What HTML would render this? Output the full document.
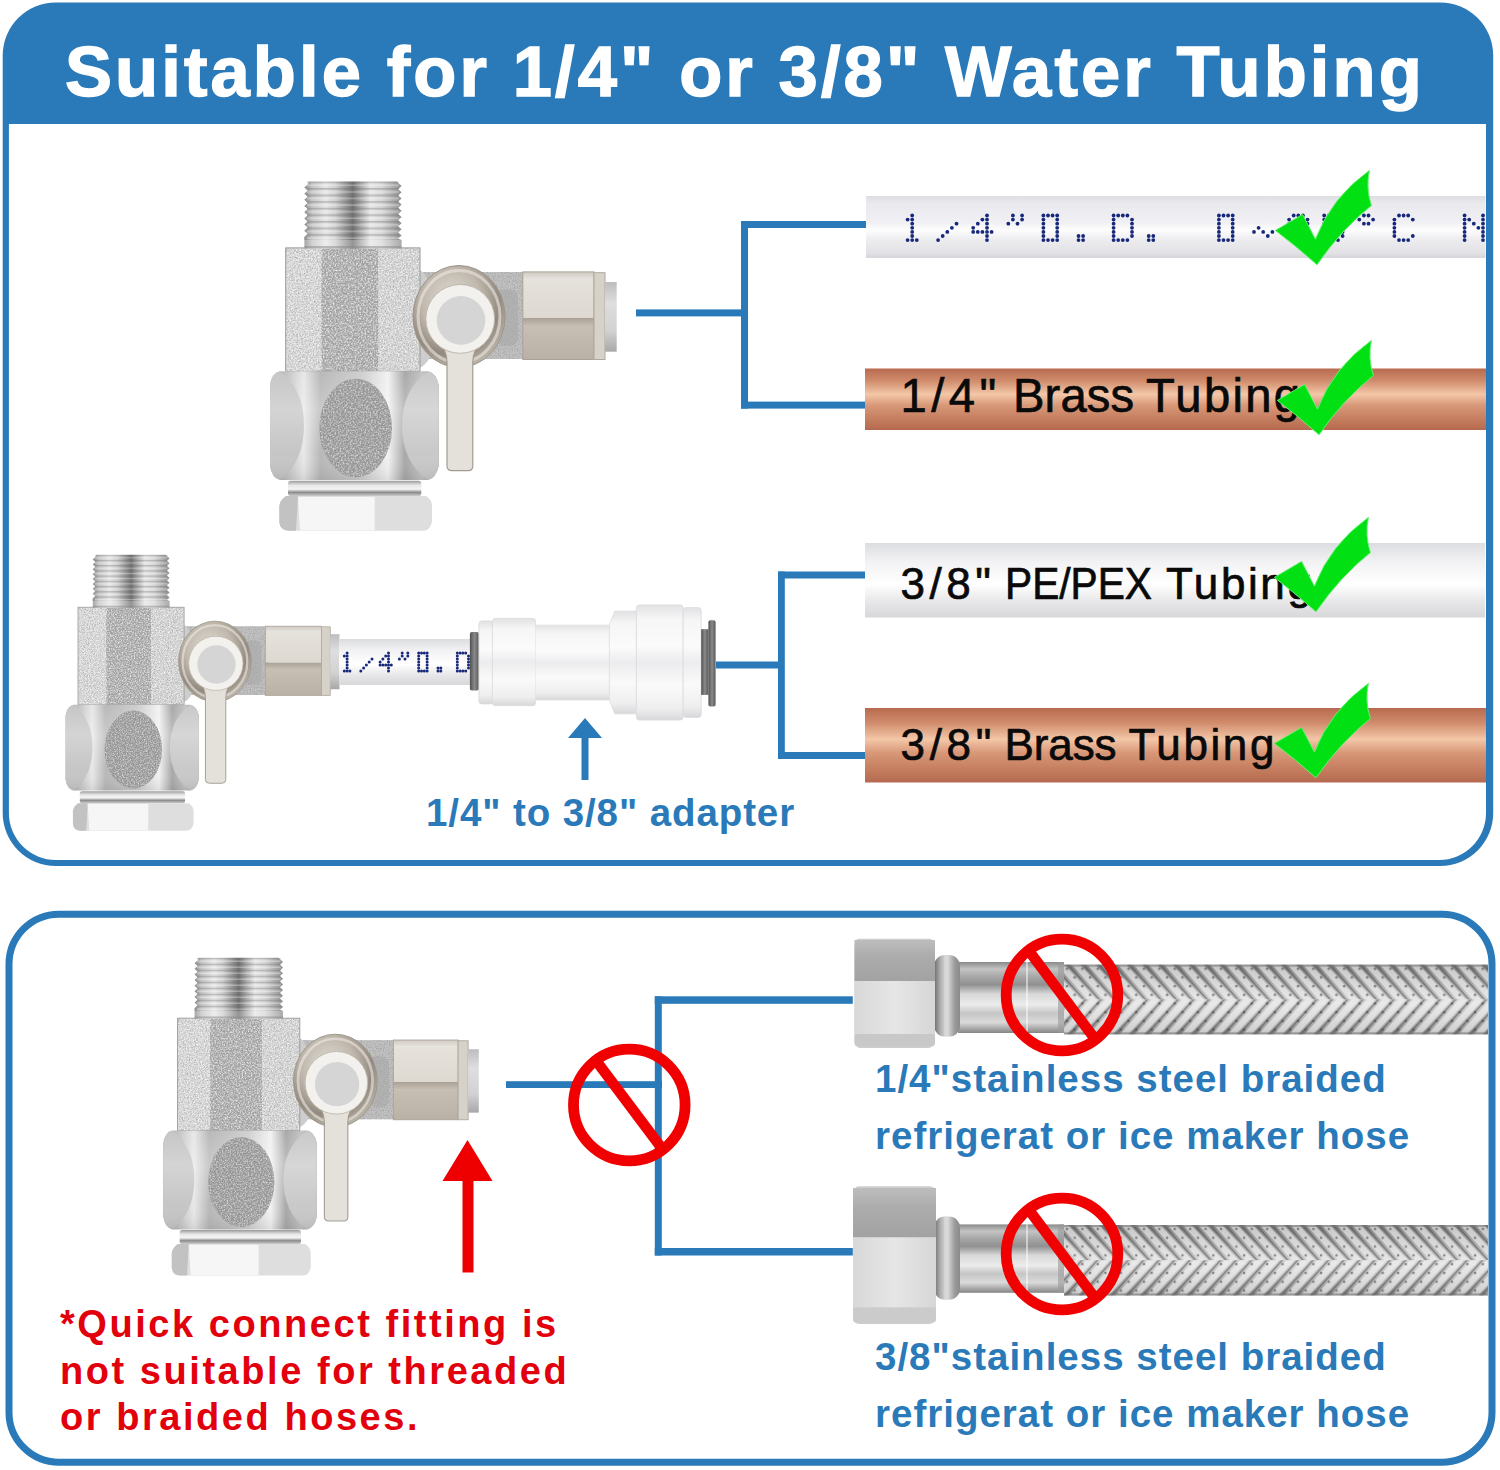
<!DOCTYPE html>
<html><head><meta charset="utf-8">
<style>
html,body{margin:0;padding:0;background:#fff;width:1500px;height:1470px;overflow:hidden}
svg{position:absolute;left:0;top:0}
text{font-family:"Liberation Sans",sans-serif}
</style></head><body>
<svg width="1500" height="1470" viewBox="0 0 1500 1470">
<defs>
<linearGradient id="gWhiteTube" x1="0" y1="0" x2="0" y2="1">
 <stop offset="0" stop-color="#dcdde0"/><stop offset="0.25" stop-color="#f2f2f4"/><stop offset="0.55" stop-color="#ffffff"/><stop offset="0.8" stop-color="#e6e6e8"/><stop offset="1" stop-color="#d8d8da"/>
</linearGradient>
<linearGradient id="gWhiteTube1" x1="0" y1="0" x2="0" y2="1">
 <stop offset="0" stop-color="#dedee2"/><stop offset="0.12" stop-color="#eaeaee"/><stop offset="0.42" stop-color="#f0f0f4"/><stop offset="0.55" stop-color="#fdfdfd"/><stop offset="0.7" stop-color="#ededf0"/><stop offset="0.92" stop-color="#e2e2e6"/><stop offset="1" stop-color="#d6d6da"/>
</linearGradient>
<linearGradient id="gCopper" x1="0" y1="0" x2="0" y2="1">
 <stop offset="0" stop-color="#b86a4e"/><stop offset="0.2" stop-color="#d08c6c"/><stop offset="0.42" stop-color="#f3c7a8"/><stop offset="0.6" stop-color="#d89878"/><stop offset="0.85" stop-color="#c27a5c"/><stop offset="1" stop-color="#b56a4f"/>
</linearGradient>
<path id="check" d="M0.4 60.4 L27.6 44.4 L40.4 69.2 Q56.6 27.2 94.4 0.4 Q90.6 18 96.4 35.6 Q66.8 58.8 42 94.8 Q21 76 0.4 60.4 Z"/>
<g id="nosign">
 <circle cx="0" cy="0" r="55.8" fill="none" stroke="#f00000" stroke-width="10.8"/>
 <line x1="-33" y1="-44" x2="33" y2="44" stroke="#f00000" stroke-width="10.5"/>
</g>

<filter id="noise" x="0" y="0" width="1" height="1" filterUnits="objectBoundingBox">
 <feTurbulence type="fractalNoise" baseFrequency="0.75" numOctaves="2" seed="4"/>
 <feColorMatrix type="matrix" values="0 0 0 0 0.3  0 0 0 0 0.3  0 0 0 0 0.3  1.5 0 0 0 -0.55"/>
 <feComposite in2="SourceAlpha" operator="in"/>
</filter>
<filter id="noiseW" x="0" y="0" width="1" height="1" filterUnits="objectBoundingBox">
 <feTurbulence type="fractalNoise" baseFrequency="0.6" numOctaves="2" seed="9"/>
 <feColorMatrix type="matrix" values="0 0 0 0 1  0 0 0 0 1  0 0 0 0 1  1.8 0 0 0 -0.7"/>
 <feComposite in2="SourceAlpha" operator="in"/>
</filter>
<linearGradient id="gThread" x1="0" y1="0" x2="1" y2="0">
 <stop offset="0" stop-color="#8a8a8a"/><stop offset="0.08" stop-color="#c4c4c4"/><stop offset="0.22" stop-color="#e6e6e6"/><stop offset="0.32" stop-color="#cfcfcf"/><stop offset="0.42" stop-color="#9a9a9a"/><stop offset="0.5" stop-color="#707070"/><stop offset="0.58" stop-color="#a8a8a8"/><stop offset="0.68" stop-color="#e6e6e6"/><stop offset="0.8" stop-color="#d6d6d6"/><stop offset="0.92" stop-color="#ababab"/><stop offset="1" stop-color="#8c8c8c"/>
</linearGradient>
<pattern id="pThread" x="0" y="181.4" width="10" height="6.6" patternUnits="userSpaceOnUse">
 <rect x="0" y="0" width="10" height="1.6" fill="#6a6a6a" opacity="0.35"/>
 <rect x="0" y="3.2" width="10" height="1.4" fill="#ffffff" opacity="0.35"/>
</pattern>
<linearGradient id="gNutBig" x1="0" y1="0" x2="1" y2="0">
 <stop offset="0" stop-color="#a6a6a6"/><stop offset="0.1" stop-color="#c4c4c4"/><stop offset="0.2" stop-color="#e8e8e8"/><stop offset="0.3" stop-color="#b8b8b8"/><stop offset="0.55" stop-color="#d0d0d0"/><stop offset="0.7" stop-color="#f2f2f2"/><stop offset="0.8" stop-color="#a8a8a8"/><stop offset="0.9" stop-color="#c4c4c4"/><stop offset="1" stop-color="#9c9c9c"/>
</linearGradient>
<linearGradient id="gNutV" x1="0" y1="0" x2="0" y2="1">
 <stop offset="0" stop-color="#ffffff" stop-opacity="0.0"/><stop offset="0.35" stop-color="#ffffff" stop-opacity="0.25"/><stop offset="0.75" stop-color="#ffffff" stop-opacity="0.0"/><stop offset="1" stop-color="#000" stop-opacity="0.08"/>
</linearGradient>
<linearGradient id="gCollar" x1="0" y1="0" x2="0" y2="1">
 <stop offset="0" stop-color="#9a9a9a"/><stop offset="0.3" stop-color="#e8e8e8"/><stop offset="0.55" stop-color="#f4f4f4"/><stop offset="0.75" stop-color="#8c8c8c"/><stop offset="1" stop-color="#d0d0d0"/>
</linearGradient>
<linearGradient id="gFitUp" x1="0" y1="0" x2="0" y2="1">
 <stop offset="0" stop-color="#cfcac2"/><stop offset="0.15" stop-color="#e6e2dc"/><stop offset="1" stop-color="#ddd8d0"/>
</linearGradient>
<linearGradient id="gFitLo" x1="0" y1="0" x2="0" y2="1">
 <stop offset="0" stop-color="#a9a196"/><stop offset="0.2" stop-color="#c7bfb3"/><stop offset="1" stop-color="#b9b1a5"/>
</linearGradient>
<radialGradient id="gBall" cx="0.42" cy="0.35" r="0.65">
 <stop offset="0" stop-color="#e2ded8"/><stop offset="0.5" stop-color="#c0b8ac"/><stop offset="0.8" stop-color="#928a7e"/><stop offset="1" stop-color="#b8b1a6"/>
</radialGradient>
<linearGradient id="gCap" x1="0" y1="0" x2="0" y2="1">
 <stop offset="0" stop-color="#bdbdbd"/><stop offset="0.3" stop-color="#dedede"/><stop offset="0.7" stop-color="#d2d2d2"/><stop offset="1" stop-color="#a8a8a8"/>
</linearGradient>


<linearGradient id="gBraid" x1="0" y1="0" x2="0" y2="1">
 <stop offset="0" stop-color="#8e8e8e"/><stop offset="0.12" stop-color="#a8a8a8"/><stop offset="0.35" stop-color="#cfcfcf"/><stop offset="0.55" stop-color="#ececec"/><stop offset="0.75" stop-color="#d2d2d2"/><stop offset="0.92" stop-color="#b4b4b4"/><stop offset="1" stop-color="#8c8c8c"/>
</linearGradient>
<pattern id="pBraidUp" x="1064" y="0" width="15.4" height="100" patternUnits="userSpaceOnUse" patternTransform="skewX(42)">
 <rect x="0" y="0" width="15.4" height="100" fill="#000" opacity="0.12"/>
 <rect x="1.5" y="0" width="8.5" height="100" fill="#fff" opacity="0.55"/>
 <rect x="12" y="0" width="2.2" height="100" fill="#3a3a3a" opacity="0.45"/>
</pattern>
<pattern id="pBraidDn" x="1064" y="0" width="15.4" height="100" patternUnits="userSpaceOnUse" patternTransform="skewX(-42)">
 <rect x="0" y="0" width="15.4" height="100" fill="#000" opacity="0.12"/>
 <rect x="1.5" y="0" width="8.5" height="100" fill="#fff" opacity="0.55"/>
 <rect x="12" y="0" width="2.2" height="100" fill="#3a3a3a" opacity="0.45"/>
</pattern>
<linearGradient id="gSleeve" x1="0" y1="0" x2="0" y2="1">
 <stop offset="0" stop-color="#8a8a8a"/><stop offset="0.1" stop-color="#c4c4c4"/><stop offset="0.22" stop-color="#a4a4a4"/><stop offset="0.32" stop-color="#909090"/><stop offset="0.45" stop-color="#d8d8d8"/><stop offset="0.6" stop-color="#ececec"/><stop offset="0.72" stop-color="#c6c6c6"/><stop offset="0.85" stop-color="#dadada"/><stop offset="1" stop-color="#858585"/>
</linearGradient>
<pattern id="pBraidDots" x="1064" y="964.7" width="15.4" height="17.4" patternUnits="userSpaceOnUse">
 <circle cx="3" cy="4" r="1.3" fill="#3c3c3c" opacity="0.55"/>
 <circle cx="10.7" cy="12.7" r="1.3" fill="#3c3c3c" opacity="0.55"/>
</pattern>
<pattern id="pBraidDots2" x="1064" y="1225" width="15.4" height="17.6" patternUnits="userSpaceOnUse">
 <circle cx="3" cy="4" r="1.3" fill="#3c3c3c" opacity="0.55"/>
 <circle cx="10.7" cy="12.8" r="1.3" fill="#3c3c3c" opacity="0.55"/>
</pattern>
<linearGradient id="gFerrule" x1="0" y1="0" x2="1" y2="0">
 <stop offset="0" stop-color="#6a6a6a"/><stop offset="0.25" stop-color="#b0b0b0"/><stop offset="0.5" stop-color="#e0e0e0"/><stop offset="0.8" stop-color="#9a9a9a"/><stop offset="1" stop-color="#8a8a8a"/>
</linearGradient>
<linearGradient id="gNutTop" x1="0" y1="0" x2="0" y2="1">
 <stop offset="0" stop-color="#bdbdbd"/><stop offset="0.4" stop-color="#acacac"/><stop offset="1" stop-color="#a2a2a2"/>
</linearGradient>
<linearGradient id="gNutMid" x1="0" y1="0" x2="1" y2="0">
 <stop offset="0" stop-color="#d8d8d8"/><stop offset="0.5" stop-color="#e6e6e6"/><stop offset="1" stop-color="#d6d6d6"/>
</linearGradient>
<linearGradient id="gQC" x1="0" y1="0" x2="0" y2="1">
 <stop offset="0" stop-color="#e2e2e4"/><stop offset="0.12" stop-color="#f6f6f7"/><stop offset="0.35" stop-color="#fbfbfc"/><stop offset="0.5" stop-color="#ececee"/><stop offset="0.7" stop-color="#fafafa"/><stop offset="0.9" stop-color="#eeeeef"/><stop offset="1" stop-color="#d8d8da"/>
</linearGradient>
<linearGradient id="gRing" x1="0" y1="0" x2="1" y2="0">
 <stop offset="0" stop-color="#505050"/><stop offset="0.5" stop-color="#8a8a8a"/><stop offset="1" stop-color="#5a5a5a"/>
</linearGradient>
<g id="valve">
 <!-- connector arm behind -->
 <rect x="405" y="272" width="122" height="87" fill="#c4c4c4"/>
 <rect x="405" y="272" width="122" height="87" fill="#000" filter="url(#noise)"/>
 <rect x="496" y="290" width="22" height="56" rx="8" fill="#a9a9a9" opacity="0.6"/>
 <!-- boss joining body -->
 <path d="M400 262 Q432 266 432 300 L432 345 Q432 372 400 372 Z" fill="#cdcdcd"/>
 <!-- body hex column -->
 <rect x="285.7" y="247.9" width="35.7" height="123.5" fill="#dadada"/>
 <rect x="321.4" y="247.9" width="57.2" height="123.5" fill="#a6a6a6"/>
 <rect x="378.6" y="247.9" width="41.4" height="123.5" fill="#d6d6d6"/>
 <rect x="285.7" y="247.9" width="134.3" height="123.5" fill="#000" filter="url(#noise)"/>
 <rect x="285.7" y="247.9" width="134.3" height="123.5" fill="#fff" filter="url(#noiseW)"/>
 <rect x="285.7" y="247.9" width="134.3" height="123.5" fill="none" stroke="#9a9a9a" stroke-width="1"/>
 <!-- thread -->
 <path d="M309 181.4 L396.5 181.4 L401.6 186.1 L398.2 189.2 L401.6 192.3 L398.2 195.4 L401.6 198.4 L398.2 201.5 L401.6 204.6 L398.2 207.7 L401.6 210.8 L398.2 213.9 L401.6 217.0 L398.2 220.1 L401.6 223.2 L398.2 226.2 L401.6 229.3 L398.2 232.4 L401.6 235.5 L398.2 238.6 L401.4 240 L304.3 240 L304.3 236.9 L307.6 233.8 L304.3 230.7 L307.6 227.6 L304.3 224.6 L307.6 221.5 L304.3 218.4 L307.6 215.3 L304.3 212.2 L307.6 209.1 L304.3 206.0 L307.6 202.9 L304.3 199.8 L307.6 196.8 L304.3 193.7 L307.6 190.6 L304.3 187.5 L307.6 184.4 Z" fill="url(#gThread)"/>
 <rect x="307" y="181.4" width="92" height="58.6" fill="url(#pThread)"/>
 <rect x="304.5" y="240" width="97" height="8.5" fill="url(#gThread)"/><rect x="304.5" y="240" width="97" height="8.5" fill="#fff" opacity="0.25"/><rect x="304.5" y="246" width="97" height="2" fill="#888" opacity="0.5"/>
 <!-- big lower nut -->
 <path d="M280 371.3 L428 371.3 Q436 373 438.7 385 L438.7 466 Q436 478 428 480 L280 480 Q272 478 270 466 L270 385 Q272 373 280 371.3 Z" fill="url(#gNutBig)"/>
 <path d="M280 371.3 Q304 390 304 425 Q304 462 280 480 Q272 478 270 466 L270 385 Q272 373 280 371.3 Z" fill="#c6c6c6"/>
 <path d="M428 371.3 Q402 390 402 425 Q402 462 428 480 Q436 478 438.7 466 L438.7 385 Q436 373 428 371.3 Z" fill="#c9c9c9"/>
 <path d="M280 371.3 L428 371.3 Q436 373 438.7 385 L438.7 466 Q436 478 428 480 L280 480 Q272 478 270 466 L270 385 Q272 373 280 371.3 Z" fill="url(#gNutV)"/>
 <ellipse cx="355.7" cy="428" rx="36.3" ry="49.3" fill="#969696"/>
 <ellipse cx="355.7" cy="428" rx="36.3" ry="49.3" fill="#000" filter="url(#noise)"/>
 <ellipse cx="355.7" cy="428" rx="36.3" ry="49.3" fill="#fff" filter="url(#noiseW)" opacity="0.8"/>
 <!-- collar ring -->
 <rect x="288" y="480.7" width="133.3" height="15.5" rx="3" fill="url(#gCollar)"/>
 <!-- bottom hex nut -->
 <path d="M286 496 L426 496 Q432 500 432 506 L432 522 Q430 530 424 530.7 L288 530.7 Q280 530 279.3 522 L279.3 506 Q280 500 286 496 Z" fill="#dedede"/>
 <path d="M286 496 L298 496 L296 530.7 L288 530.7 Q280 530 279.3 522 L279.3 506 Q280 500 286 496 Z" fill="#c2c2c2"/>
 <path d="M298 497 L374.7 497 L374.7 530.5 L300 530.5 Z" fill="#f6f6f6"/>
 
 <!-- ball valve -->
 <ellipse cx="459" cy="316.5" rx="46" ry="51" fill="url(#gBall)" stroke="#9c9488" stroke-width="1"/>
 <ellipse cx="459" cy="316.5" rx="41" ry="46" fill="none" stroke="#ece8e2" stroke-width="3" opacity="0.6"/>
 <!-- handle -->
 <path d="M436 335 Q447 350 447 362 L447 466 Q447 470.7 452 470.7 L468 470.7 Q472.8 470.7 472.8 466 L472.8 362 Q472.8 350 484 335 Z" fill="#e4e0da" stroke="#a49c92" stroke-width="1.2"/>
 <circle cx="460.2" cy="318.9" r="34.4" fill="#f3f1ed" stroke="#bfb7ab" stroke-width="1"/>
 <circle cx="461" cy="320.4" r="24.3" fill="#d5d5d5"/>
 <!-- hex fitting -->
 <rect x="522.8" y="271.9" width="71.2" height="46.1" fill="url(#gFitUp)"/>
 <rect x="522.8" y="318" width="71.2" height="41.5" fill="url(#gFitLo)"/>
 <rect x="522.8" y="271.9" width="71.2" height="87.6" fill="none" stroke="#aaa298" stroke-width="1"/>
 <rect x="594" y="272.7" width="11" height="86.8" fill="#d6d2ca" stroke="#b0a89c" stroke-width="1"/>
 <rect x="605" y="282" width="11.7" height="69.7" fill="url(#gCap)"/>
</g>
</defs>
<!-- Panel 1 -->
<rect x="2.7" y="2.5" width="1490.5" height="863.5" rx="53" fill="#2a7ab9"/>
<path d="M8.9 124 H1486 V813 A47 47 0 0 1 1439 860 H56 A47 47 0 0 1 8.9 813 Z" fill="#fff"/>
<text x="65" y="95.6" font-size="70.5" font-weight="bold" fill="#fff" stroke="#fff" stroke-width="1.4" letter-spacing="3.1">Suitable for 1/4" or 3/8" Water Tubing</text>
<!-- Panel 2 -->
<rect x="9" y="914.2" width="1483" height="548" rx="50" fill="none" stroke="#2a7ab9" stroke-width="7"/>


<use href="#valve"/>
<use href="#valve" transform="translate(-147.7,411.4) scale(0.79)"/>
<use href="#valve" transform="translate(-82.4,792.6) scale(0.91)"/>

<!-- hose 1 -->
<rect x="1064" y="964.7" width="424" height="69.6" fill="url(#gBraid)"/>
<rect x="1064" y="964.7" width="424" height="34.8" fill="url(#pBraidUp)"/>
<rect x="1064" y="999.5" width="424" height="34.8" fill="url(#pBraidDn)"/>
<rect x="1064" y="964.7" width="424" height="69.6" fill="url(#pBraidDots)"/>
<rect x="1064" y="964.7" width="424" height="2" fill="#7a7a7a" opacity="0.6"/>
<rect x="1064" y="1032.3" width="424" height="2" fill="#7a7a7a" opacity="0.6"/>
<rect x="958" y="962" width="106" height="71" fill="url(#gSleeve)"/>
<rect x="1026" y="962" width="2" height="71" fill="#fff" opacity="0.5"/>
<rect x="1058" y="962" width="6" height="71" fill="#9a9a9a" opacity="0.6"/>
<rect x="934" y="955" width="26" height="81.6" rx="11" fill="url(#gFerrule)"/>
<rect x="944" y="955" width="4" height="81.6" fill="#d8d8d8" opacity="0.6"/>
<path d="M858 938.7 L930 938.7 Q935 940 935 946 L935 1041 Q934 1047.9 928 1047.9 L860 1047.9 Q854.5 1047 854.5 1041 L854.5 946 Q855 939.5 858 938.7 Z" fill="#cdcdcd"/>
<rect x="854.5" y="940" width="80.5" height="41" fill="url(#gNutTop)"/>
<rect x="854.5" y="981" width="80.5" height="53" fill="url(#gNutMid)"/>
<rect x="854.5" y="1034" width="80.5" height="12" rx="3" fill="#c8c8c8"/>
<!-- hose 2 -->
<rect x="1064" y="1225" width="424" height="70.4" fill="url(#gBraid)"/>
<rect x="1064" y="1225" width="424" height="35.2" fill="url(#pBraidUp)"/>
<rect x="1064" y="1260.2" width="424" height="35.2" fill="url(#pBraidDn)"/>
<rect x="1064" y="1225" width="424" height="70.4" fill="url(#pBraidDots2)"/>
<rect x="1064" y="1225" width="424" height="2" fill="#7a7a7a" opacity="0.6"/>
<rect x="1064" y="1293.4" width="424" height="2" fill="#7a7a7a" opacity="0.6"/>
<rect x="958" y="1224.4" width="106" height="68.4" fill="url(#gSleeve)"/>
<rect x="1026" y="1224.4" width="2" height="68.4" fill="#fff" opacity="0.5"/>
<rect x="1058" y="1224.4" width="6" height="68.4" fill="#9a9a9a" opacity="0.6"/>
<rect x="934" y="1216.6" width="26" height="83.2" rx="11" fill="url(#gFerrule)"/>
<rect x="944" y="1216.6" width="4" height="83.2" fill="#d8d8d8" opacity="0.6"/>
<path d="M858 1186.3 L930 1186.3 Q936 1188 936 1194 L936 1317 Q935 1324 929 1324 L859 1324 Q853 1323 853 1317 L853 1194 Q854 1187 858 1186.3 Z" fill="#cdcdcd"/>
<rect x="853" y="1188" width="83" height="49.4" fill="url(#gNutTop)"/>
<rect x="853" y="1237.4" width="83" height="70.2" fill="url(#gNutMid)"/>
<rect x="853" y="1307.6" width="83" height="15" rx="3" fill="#cbcbcb"/>

<!-- adapter assembly -->
<rect x="339" y="639" width="133" height="46" fill="url(#gWhiteTube)"/>
<g fill="#17287a"><circle cx="347.1" cy="653.0" r="1.50"/><circle cx="344.3" cy="656.0" r="1.50"/><circle cx="347.1" cy="656.0" r="1.50"/><circle cx="347.1" cy="659.0" r="1.50"/><circle cx="347.1" cy="662.0" r="1.50"/><circle cx="347.1" cy="665.0" r="1.50"/><circle cx="347.1" cy="668.0" r="1.50"/><circle cx="344.3" cy="671.0" r="1.50"/><circle cx="347.1" cy="671.0" r="1.50"/><circle cx="349.9" cy="671.0" r="1.50"/><circle cx="372.0" cy="659.0" r="1.50"/><circle cx="369.2" cy="662.0" r="1.50"/><circle cx="366.4" cy="665.0" r="1.50"/><circle cx="363.6" cy="668.0" r="1.50"/><circle cx="360.8" cy="671.0" r="1.50"/><circle cx="388.5" cy="653.0" r="1.50"/><circle cx="385.7" cy="656.0" r="1.50"/><circle cx="388.5" cy="656.0" r="1.50"/><circle cx="382.9" cy="659.0" r="1.50"/><circle cx="388.5" cy="659.0" r="1.50"/><circle cx="380.1" cy="662.0" r="1.50"/><circle cx="388.5" cy="662.0" r="1.50"/><circle cx="380.1" cy="665.0" r="1.50"/><circle cx="382.9" cy="665.0" r="1.50"/><circle cx="385.7" cy="665.0" r="1.50"/><circle cx="388.5" cy="665.0" r="1.50"/><circle cx="391.3" cy="665.0" r="1.50"/><circle cx="388.5" cy="668.0" r="1.50"/><circle cx="388.5" cy="671.0" r="1.50"/><circle cx="402.2" cy="653.0" r="1.50"/><circle cx="407.8" cy="653.0" r="1.50"/><circle cx="402.2" cy="656.0" r="1.50"/><circle cx="407.8" cy="656.0" r="1.50"/><circle cx="399.4" cy="659.0" r="1.50"/><circle cx="405.0" cy="659.0" r="1.50"/><circle cx="418.7" cy="653.0" r="1.50"/><circle cx="421.5" cy="653.0" r="1.50"/><circle cx="424.3" cy="653.0" r="1.50"/><circle cx="427.1" cy="653.0" r="1.50"/><circle cx="418.7" cy="656.0" r="1.50"/><circle cx="427.1" cy="656.0" r="1.50"/><circle cx="418.7" cy="659.0" r="1.50"/><circle cx="427.1" cy="659.0" r="1.50"/><circle cx="418.7" cy="662.0" r="1.50"/><circle cx="427.1" cy="662.0" r="1.50"/><circle cx="418.7" cy="665.0" r="1.50"/><circle cx="427.1" cy="665.0" r="1.50"/><circle cx="418.7" cy="668.0" r="1.50"/><circle cx="427.1" cy="668.0" r="1.50"/><circle cx="418.7" cy="671.0" r="1.50"/><circle cx="421.5" cy="671.0" r="1.50"/><circle cx="424.3" cy="671.0" r="1.50"/><circle cx="427.1" cy="671.0" r="1.50"/><circle cx="438.0" cy="668.0" r="1.50"/><circle cx="440.8" cy="668.0" r="1.50"/><circle cx="438.0" cy="671.0" r="1.50"/><circle cx="440.8" cy="671.0" r="1.50"/><circle cx="457.3" cy="653.0" r="1.50"/><circle cx="460.1" cy="653.0" r="1.50"/><circle cx="462.9" cy="653.0" r="1.50"/><circle cx="465.7" cy="653.0" r="1.50"/><circle cx="457.3" cy="656.0" r="1.50"/><circle cx="468.5" cy="656.0" r="1.50"/><circle cx="457.3" cy="659.0" r="1.50"/><circle cx="468.5" cy="659.0" r="1.50"/><circle cx="457.3" cy="662.0" r="1.50"/><circle cx="468.5" cy="662.0" r="1.50"/><circle cx="457.3" cy="665.0" r="1.50"/><circle cx="468.5" cy="665.0" r="1.50"/><circle cx="457.3" cy="668.0" r="1.50"/><circle cx="468.5" cy="668.0" r="1.50"/><circle cx="457.3" cy="671.0" r="1.50"/><circle cx="460.1" cy="671.0" r="1.50"/><circle cx="462.9" cy="671.0" r="1.50"/><circle cx="465.7" cy="671.0" r="1.50"/></g>
<rect x="469.9" y="631.9" width="9" height="58.5" rx="2" fill="url(#gRing)"/>
<rect x="478.9" y="621" width="14" height="82.9" rx="3" fill="url(#gQC)" stroke="#d8d8da" stroke-width="0.8"/>
<rect x="492.4" y="618.4" width="43.2" height="87.3" rx="3" fill="url(#gQC)" stroke="#dadadc" stroke-width="0.8"/>
<rect x="535.6" y="624.7" width="74" height="75.6" fill="url(#gQC)"/>
<path d="M609.4 624.7 L614.8 611.2 L636.4 611.2 L636.4 713.8 L614.8 713.8 L609.4 700.3 Z" fill="url(#gQC)" stroke="#dcdcde" stroke-width="0.8"/>
<rect x="636.4" y="604.9" width="46.8" height="115.2" rx="3" fill="url(#gQC)" stroke="#dcdcde" stroke-width="0.8"/>
<rect x="683.2" y="607.6" width="18" height="109.8" rx="3" fill="url(#gQC)" stroke="#dcdcde" stroke-width="0.8"/>
<rect x="701.2" y="629.2" width="7.2" height="65.7" fill="url(#gRing)"/>
<rect x="708.4" y="620.2" width="7.2" height="86.4" rx="2" fill="url(#gRing)"/>
<!-- blue connectors -->
<g fill="#2a7ab9">
 <rect x="636" y="309.4" width="112" height="7"/>
 <rect x="741" y="221" width="7" height="187.6"/>
 <rect x="741" y="221" width="125" height="7"/>
 <rect x="741" y="401.6" width="125" height="7"/>

 <rect x="716" y="661.5" width="68" height="7"/>
 <rect x="778" y="571.5" width="6.8" height="187.5"/>
 <rect x="778" y="571.5" width="87" height="7"/>
 <rect x="778" y="752" width="87" height="7"/>

 <rect x="506" y="1081.2" width="156" height="6.8"/>
 <rect x="654.8" y="996.3" width="7" height="259.2"/>
 <rect x="654.8" y="996.3" width="198" height="7.5"/>
 <rect x="654.8" y="1248" width="198" height="7.5"/>
</g>

<!-- tubes -->
<rect x="866" y="196" width="619.5" height="62" fill="url(#gWhiteTube1)"/>
<rect x="865" y="368.5" width="621" height="61.5" fill="url(#gCopper)"/>
<rect x="865" y="543" width="620" height="74.5" fill="url(#gWhiteTube)"/>
<rect x="865" y="708" width="621" height="74.5" fill="url(#gCopper)"/>

<g fill="#17287a"><circle cx="912.2" cy="215.5" r="1.90"/><circle cx="907.6" cy="219.6" r="1.90"/><circle cx="912.2" cy="219.6" r="1.90"/><circle cx="912.2" cy="223.7" r="1.90"/><circle cx="912.2" cy="227.8" r="1.90"/><circle cx="912.2" cy="231.9" r="1.90"/><circle cx="912.2" cy="236.0" r="1.90"/><circle cx="907.6" cy="240.1" r="1.90"/><circle cx="912.2" cy="240.1" r="1.90"/><circle cx="916.8" cy="240.1" r="1.90"/><circle cx="956.5" cy="223.7" r="1.90"/><circle cx="951.9" cy="227.8" r="1.90"/><circle cx="947.3" cy="231.9" r="1.90"/><circle cx="942.7" cy="236.0" r="1.90"/><circle cx="938.1" cy="240.1" r="1.90"/><circle cx="987.0" cy="215.5" r="1.90"/><circle cx="982.4" cy="219.6" r="1.90"/><circle cx="987.0" cy="219.6" r="1.90"/><circle cx="977.8" cy="223.7" r="1.90"/><circle cx="987.0" cy="223.7" r="1.90"/><circle cx="973.2" cy="227.8" r="1.90"/><circle cx="987.0" cy="227.8" r="1.90"/><circle cx="973.2" cy="231.9" r="1.90"/><circle cx="977.8" cy="231.9" r="1.90"/><circle cx="982.4" cy="231.9" r="1.90"/><circle cx="987.0" cy="231.9" r="1.90"/><circle cx="991.6" cy="231.9" r="1.90"/><circle cx="987.0" cy="236.0" r="1.90"/><circle cx="987.0" cy="240.1" r="1.90"/><circle cx="1012.9" cy="215.5" r="1.90"/><circle cx="1022.1" cy="215.5" r="1.90"/><circle cx="1012.9" cy="219.6" r="1.90"/><circle cx="1022.1" cy="219.6" r="1.90"/><circle cx="1008.3" cy="223.7" r="1.90"/><circle cx="1017.5" cy="223.7" r="1.90"/><circle cx="1043.4" cy="215.5" r="1.90"/><circle cx="1048.0" cy="215.5" r="1.90"/><circle cx="1052.6" cy="215.5" r="1.90"/><circle cx="1057.2" cy="215.5" r="1.90"/><circle cx="1043.4" cy="219.6" r="1.90"/><circle cx="1057.2" cy="219.6" r="1.90"/><circle cx="1043.4" cy="223.7" r="1.90"/><circle cx="1057.2" cy="223.7" r="1.90"/><circle cx="1043.4" cy="227.8" r="1.90"/><circle cx="1057.2" cy="227.8" r="1.90"/><circle cx="1043.4" cy="231.9" r="1.90"/><circle cx="1057.2" cy="231.9" r="1.90"/><circle cx="1043.4" cy="236.0" r="1.90"/><circle cx="1057.2" cy="236.0" r="1.90"/><circle cx="1043.4" cy="240.1" r="1.90"/><circle cx="1048.0" cy="240.1" r="1.90"/><circle cx="1052.6" cy="240.1" r="1.90"/><circle cx="1057.2" cy="240.1" r="1.90"/><circle cx="1078.5" cy="236.0" r="1.90"/><circle cx="1083.1" cy="236.0" r="1.90"/><circle cx="1078.5" cy="240.1" r="1.90"/><circle cx="1083.1" cy="240.1" r="1.90"/><circle cx="1113.6" cy="215.5" r="1.90"/><circle cx="1118.2" cy="215.5" r="1.90"/><circle cx="1122.8" cy="215.5" r="1.90"/><circle cx="1127.4" cy="215.5" r="1.90"/><circle cx="1113.6" cy="219.6" r="1.90"/><circle cx="1132.0" cy="219.6" r="1.90"/><circle cx="1113.6" cy="223.7" r="1.90"/><circle cx="1132.0" cy="223.7" r="1.90"/><circle cx="1113.6" cy="227.8" r="1.90"/><circle cx="1132.0" cy="227.8" r="1.90"/><circle cx="1113.6" cy="231.9" r="1.90"/><circle cx="1132.0" cy="231.9" r="1.90"/><circle cx="1113.6" cy="236.0" r="1.90"/><circle cx="1132.0" cy="236.0" r="1.90"/><circle cx="1113.6" cy="240.1" r="1.90"/><circle cx="1118.2" cy="240.1" r="1.90"/><circle cx="1122.8" cy="240.1" r="1.90"/><circle cx="1127.4" cy="240.1" r="1.90"/><circle cx="1148.7" cy="236.0" r="1.90"/><circle cx="1153.3" cy="236.0" r="1.90"/><circle cx="1148.7" cy="240.1" r="1.90"/><circle cx="1153.3" cy="240.1" r="1.90"/><circle cx="1218.9" cy="215.5" r="1.90"/><circle cx="1223.5" cy="215.5" r="1.90"/><circle cx="1228.1" cy="215.5" r="1.90"/><circle cx="1232.7" cy="215.5" r="1.90"/><circle cx="1218.9" cy="219.6" r="1.90"/><circle cx="1232.7" cy="219.6" r="1.90"/><circle cx="1218.9" cy="223.7" r="1.90"/><circle cx="1232.7" cy="223.7" r="1.90"/><circle cx="1218.9" cy="227.8" r="1.90"/><circle cx="1232.7" cy="227.8" r="1.90"/><circle cx="1218.9" cy="231.9" r="1.90"/><circle cx="1232.7" cy="231.9" r="1.90"/><circle cx="1218.9" cy="236.0" r="1.90"/><circle cx="1232.7" cy="236.0" r="1.90"/><circle cx="1218.9" cy="240.1" r="1.90"/><circle cx="1223.5" cy="240.1" r="1.90"/><circle cx="1228.1" cy="240.1" r="1.90"/><circle cx="1232.7" cy="240.1" r="1.90"/><circle cx="1258.6" cy="227.8" r="1.90"/><circle cx="1254.0" cy="231.9" r="1.90"/><circle cx="1263.2" cy="231.9" r="1.90"/><circle cx="1272.4" cy="231.9" r="1.90"/><circle cx="1267.8" cy="236.0" r="1.90"/><circle cx="1293.7" cy="215.5" r="1.90"/><circle cx="1298.3" cy="215.5" r="1.90"/><circle cx="1302.9" cy="215.5" r="1.90"/><circle cx="1289.1" cy="219.6" r="1.90"/><circle cx="1307.5" cy="219.6" r="1.90"/><circle cx="1289.1" cy="223.7" r="1.90"/><circle cx="1307.5" cy="223.7" r="1.90"/><circle cx="1293.7" cy="227.8" r="1.90"/><circle cx="1298.3" cy="227.8" r="1.90"/><circle cx="1302.9" cy="227.8" r="1.90"/><circle cx="1307.5" cy="227.8" r="1.90"/><circle cx="1307.5" cy="231.9" r="1.90"/><circle cx="1302.9" cy="236.0" r="1.90"/><circle cx="1293.7" cy="240.1" r="1.90"/><circle cx="1298.3" cy="240.1" r="1.90"/><circle cx="1324.2" cy="215.5" r="1.90"/><circle cx="1328.8" cy="215.5" r="1.90"/><circle cx="1333.4" cy="215.5" r="1.90"/><circle cx="1338.0" cy="215.5" r="1.90"/><circle cx="1342.6" cy="215.5" r="1.90"/><circle cx="1324.2" cy="219.6" r="1.90"/><circle cx="1324.2" cy="223.7" r="1.90"/><circle cx="1328.8" cy="223.7" r="1.90"/><circle cx="1333.4" cy="223.7" r="1.90"/><circle cx="1338.0" cy="223.7" r="1.90"/><circle cx="1342.6" cy="227.8" r="1.90"/><circle cx="1342.6" cy="231.9" r="1.90"/><circle cx="1324.2" cy="236.0" r="1.90"/><circle cx="1342.6" cy="236.0" r="1.90"/><circle cx="1328.8" cy="240.1" r="1.90"/><circle cx="1333.4" cy="240.1" r="1.90"/><circle cx="1338.0" cy="240.1" r="1.90"/><circle cx="1363.9" cy="215.5" r="1.90"/><circle cx="1368.5" cy="215.5" r="1.90"/><circle cx="1359.3" cy="219.6" r="1.90"/><circle cx="1373.1" cy="219.6" r="1.90"/><circle cx="1363.9" cy="223.7" r="1.90"/><circle cx="1368.5" cy="223.7" r="1.90"/><circle cx="1399.0" cy="215.5" r="1.90"/><circle cx="1403.6" cy="215.5" r="1.90"/><circle cx="1408.2" cy="215.5" r="1.90"/><circle cx="1394.4" cy="219.6" r="1.90"/><circle cx="1412.8" cy="219.6" r="1.90"/><circle cx="1394.4" cy="223.7" r="1.90"/><circle cx="1394.4" cy="227.8" r="1.90"/><circle cx="1394.4" cy="231.9" r="1.90"/><circle cx="1394.4" cy="236.0" r="1.90"/><circle cx="1412.8" cy="236.0" r="1.90"/><circle cx="1399.0" cy="240.1" r="1.90"/><circle cx="1403.6" cy="240.1" r="1.90"/><circle cx="1408.2" cy="240.1" r="1.90"/><circle cx="1464.6" cy="215.5" r="1.90"/><circle cx="1483.0" cy="215.5" r="1.90"/><circle cx="1464.6" cy="219.6" r="1.90"/><circle cx="1469.2" cy="219.6" r="1.90"/><circle cx="1483.0" cy="219.6" r="1.90"/><circle cx="1464.6" cy="223.7" r="1.90"/><circle cx="1473.8" cy="223.7" r="1.90"/><circle cx="1483.0" cy="223.7" r="1.90"/><circle cx="1464.6" cy="227.8" r="1.90"/><circle cx="1478.4" cy="227.8" r="1.90"/><circle cx="1483.0" cy="227.8" r="1.90"/><circle cx="1464.6" cy="231.9" r="1.90"/><circle cx="1483.0" cy="231.9" r="1.90"/><circle cx="1464.6" cy="236.0" r="1.90"/><circle cx="1483.0" cy="236.0" r="1.90"/><circle cx="1464.6" cy="240.1" r="1.90"/><circle cx="1483.0" cy="240.1" r="1.90"/></g>
<g fill="#0a0a0a" stroke="#0a0a0a" stroke-width="0.7">
<text x="900.5" y="412.2" font-size="47.2" letter-spacing="4.5">1/4"</text><text x="1013" y="412.2" font-size="47.2" letter-spacing="0.1">Brass</text><text x="1146" y="412.2" font-size="47.2" letter-spacing="2.3">Tubing</text>
<text x="900.5" y="598.7" font-size="44" letter-spacing="4.5">3/8"</text><text x="1005" y="598.7" font-size="44" textLength="147" lengthAdjust="spacingAndGlyphs">PE/PEX</text><text x="1166" y="598.7" font-size="44" letter-spacing="2.6">Tubing</text>
<text x="900.5" y="760.2" font-size="44" letter-spacing="4.7">3/8"</text><text x="1004.5" y="760.2" font-size="44" letter-spacing="-0.1">Brass</text><text x="1128.5" y="760.2" font-size="44" letter-spacing="2.6">Tubing</text>
</g>

<g fill="#00e012" stroke="#66f070" stroke-width="1">
 <use href="#check" x="1275" y="170"/>
 <use href="#check" x="1277" y="340"/>
 <use href="#check" x="1274" y="517"/>
 <use href="#check" x="1274" y="683"/>
</g>

<!-- arrows -->
<path d="M585 718 L602 738 L588.5 738 L588.5 780 L581.5 780 L581.5 738 L568 738 Z" fill="#2a7ab9"/>
<path d="M467.5 1140 L492.5 1181 L473.5 1181 L473.5 1272.5 L462.5 1272.5 L462.5 1181 L442.5 1181 Z" fill="#ee0000"/>

<text x="426" y="826" font-size="38.5" font-weight="bold" fill="#2a7ab9" letter-spacing="0.9">1/4" to 3/8" adapter</text>

<g font-size="38" font-weight="bold" fill="#e2000c" letter-spacing="2.55">
<text x="60" y="1337">*Quick connect fitting is</text>
<text x="60" y="1384">not suitable for threaded</text>
<text x="60" y="1430">or braided hoses.</text>
</g>
<g font-size="38.5" font-weight="bold" fill="#2a7ab9" letter-spacing="1">
<text x="875" y="1092">1/4"stainless steel braided</text>
<text x="875" y="1149">refrigerat or ice maker hose</text>
<text x="875" y="1370">3/8"stainless steel braided</text>
<text x="875" y="1427.4">refrigerat or ice maker hose</text>
</g>

<use href="#nosign" x="629.3" y="1105"/>
<use href="#nosign" x="1062" y="995"/>
<use href="#nosign" x="1062" y="1254"/>
</svg>
</body></html>
